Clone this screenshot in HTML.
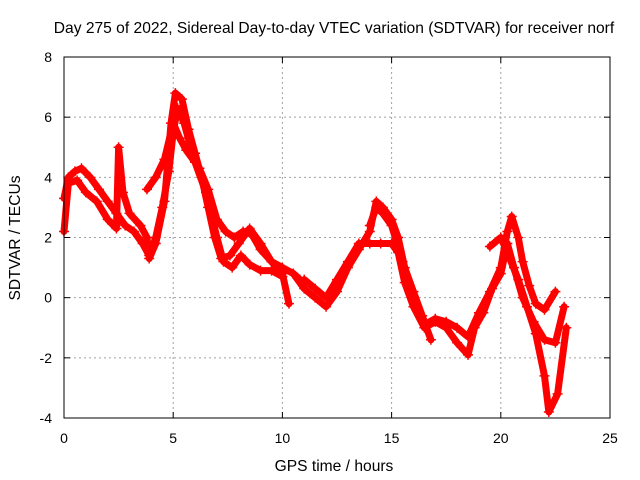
<!DOCTYPE html>
<html><head><meta charset="utf-8"><style>
body{margin:0;background:#fff}
svg{display:block;font-family:"Liberation Sans",sans-serif}
</style></head><body>
<svg id="chart" width="640" height="480">
<text x="334" y="33" font-size="15.6" text-anchor="middle">Day 275 of 2022, Sidereal Day-to-day VTEC variation (SDTVAR) for receiver norf</text>
<text x="334" y="471" font-size="15.6" text-anchor="middle">GPS time / hours</text>
<text transform="translate(20,238) rotate(-90)" font-size="15.6" text-anchor="middle">SDTVAR / TECUs</text>
<g id="grid"></g><g id="ticks"></g><g id="marks"></g>
<rect x="64" y="57" width="546" height="361" fill="none" stroke="#000" stroke-width="1"/>
</svg>
<script>
const xTicks=[0,5,10,15,20,25];
const yTicks=[-4,-2,0,2,4,6,8];
const seriesA=[[0,3.3],[0.2,4.0],[0.5,4.2],[0.8,4.3],[1.2,4.0],[1.6,3.6],[2.0,3.2],[2.4,2.8],[2.8,2.4],[3.2,2.2],[3.6,1.8],[3.9,1.4],[4.2,2.0],[4.5,3.0],[4.8,4.2],[5.0,5.5],[5.2,6.3],[5.5,5.8],[5.8,5.0],[6.2,4.3],[6.6,3.6],[7.0,2.6],[7.4,2.2],[7.8,2.0],[8.2,2.2],[8.6,2.1],[9.0,1.6],[9.5,1.2],[10.0,0.8],[10.3,-0.2]];
const seriesB=[[0,2.2],[0.2,3.8],[0.6,3.9],[1,3.5],[1.5,3.2],[2,2.6],[2.4,2.3],[2.5,5.0],[2.7,3.5],[3,2.8],[3.5,2.4],[3.8,2.0],[3.9,1.3],[4.2,1.8],[4.6,3.2],[4.9,5.8],[5.1,6.8],[5.4,6.6],[5.7,5.6],[6.0,4.8],[6.3,4.0],[6.6,3.0],[6.9,2.0],[7.2,1.3],[7.6,1.4],[8.0,1.8],[8.5,2.3],[9.0,1.8],[9.5,1.2],[10,1.0],[10.5,0.8],[10.8,0.6]];
const seriesC=[[3.8,3.6],[4.2,4.0],[4.6,4.6],[5.0,5.8],[5.3,5.3],[5.6,4.9],[6,4.5],[6.5,3.5],[7,2.0],[7.3,1.2],[7.7,1.0],[8.1,1.4],[8.5,1.1],[9,0.9],[9.5,0.9],[10,0.7]];
const seriesD=[[10.5,0.8],[11,0.3],[11.5,0],[12,-0.3],[12.5,0.2],[13,1.0],[13.5,1.6],[14,2.2],[14.3,3.2],[14.6,3.0],[15,2.6],[15.3,2.0],[15.6,1.0],[16,0],[16.5,-0.9],[17,-0.7],[17.5,-0.8],[18,-1.0],[18.5,-1.3],[19,-0.5],[19.5,0.2],[20,1.0],[20.3,2.2],[20.5,2.7],[20.8,2.0],[21,1.2],[21.3,0.4],[21.6,-0.2],[22,-0.4],[22.5,0.2]];
const seriesE=[[11,0.6],[11.5,0.3],[12,0],[12.5,0.6],[13,1.2],[13.5,1.8],[14,1.8],[14.5,1.8],[15,1.8],[15.3,1.5],[15.6,0.5],[16,-0.3],[16.5,-1.0],[17,-0.8],[17.5,-1.0],[18,-1.5],[18.5,-1.9],[18.8,-1.0],[19.2,-0.5],[19.6,0.3],[20,0.8],[20.3,1.8],[20.6,1.0],[21,0.0],[21.5,-0.8],[22,-1.4],[22.5,-1.5],[22.9,-0.3]];
const seriesF=[[14,2.4],[14.3,3.0],[14.6,2.8],[15,2.4],[15.5,1.2],[16,0.2],[16.4,-0.6],[16.8,-1.4]];
const seriesG=[[19.5,1.7],[20,2.0],[20.3,1.5],[20.8,0.6],[21.2,-0.3],[21.6,-1.2],[22,-2.6],[22.2,-3.8],[22.6,-3.2],[23,-1.0]];
const allSeries=[seriesA,seriesB,seriesC,seriesD,seriesE,seriesF,seriesG];
const X0=64,X1=610,Y0=418,Y1=57;
function sx(v){return X0+(v-0)/(25-0)*(X1-X0);}
function sy(v){return Y0-(v+4)/(8+4)*(Y0-Y1);}
const NS="http://www.w3.org/2000/svg";
function mk(t,a,p){const e=document.createElementNS(NS,t);for(const k in a)e.setAttribute(k,a[k]);p.appendChild(e);return e;}
const grid=document.getElementById('grid'),ticks=document.getElementById('ticks'),marks=document.getElementById('marks');
xTicks.forEach(v=>{const x=sx(v);
 if(v>0&&v<25){const g=mk('line',{x1:x,x2:x,y1:Y1,y2:Y0,stroke:'#a0a0a0','stroke-dasharray':'2,3'},grid);
 
 }
 mk('line',{x1:x,x2:x,y1:Y0,y2:Y0-6,stroke:'#000'},ticks);mk('line',{x1:x,x2:x,y1:Y1,y2:Y1+6,stroke:'#000'},ticks);
 const t=mk('text',{x:x,y:443,'font-size':14,'text-anchor':'middle'},ticks);t.textContent=v;
 
 });
yTicks.forEach(v=>{const y=sy(v);
 if(v>-4&&v<8){const g=mk('line',{x1:X0,x2:X1,y1:y,y2:y,stroke:'#a0a0a0','stroke-dasharray':'2,3'},grid);
 
 }
 mk('line',{x1:X0,x2:X0+6,y1:y,y2:y,stroke:'#000'},ticks);mk('line',{x1:X1,x2:X1-6,y1:y,y2:y,stroke:'#000'},ticks);
 const t=mk('text',{x:52,y:y+5,'font-size':14,'text-anchor':'end'},ticks);t.textContent=v;
 
 });
allSeries.forEach((s,i)=>{
 const pts=s.map(p=>sx(p[0])+','+sy(p[1])).join(' ');
 const pl=mk('polyline',{points:pts,fill:'none',stroke:'#ff0000','stroke-width':7,'stroke-linejoin':'round','stroke-linecap':'round'},marks);
 
 
 let d='';s.forEach(p=>{const x=sx(p[0]),y=sy(p[1]);d+=`M${x-5},${y}h10M${x},${y-5}v10`;});
 const m=mk('path',{d:d,stroke:'#ff0000','stroke-width':1.5},marks);
 
 
});
</script>
</body></html>
